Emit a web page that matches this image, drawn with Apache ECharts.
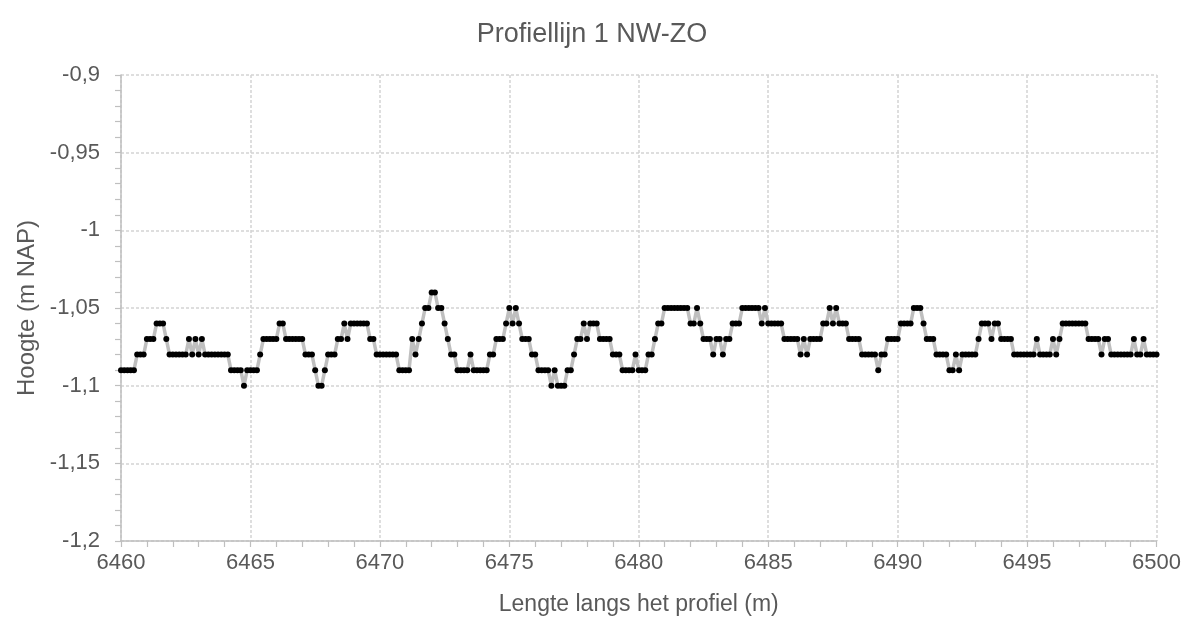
<!DOCTYPE html>
<html>
<head>
<meta charset="utf-8">
<script src="https://cdn.jsdelivr.net/npm/echarts@6/dist/echarts.min.js"></script>
<style>
  html, body { margin: 0; padding: 0; background: #fff; }
  #chart { width: 1184px; height: 621px; }
</style>
</head>
<body>
<div id="chart"></div>
<script>
// Profile line 1 (NW-SE): terrain height along the profile, sampled every 0.125 m
const titleText = 'Profiellijn 1 NW-ZO';
const xAxisTitle = 'Lengte langs het profiel (m)';
const yAxisTitle = 'Hoogte (m NAP)';

const startDistance = 6460;   // m along the profile
const sampleStep = 0.125;     // m between measurements

// heights in m NAP, one row per metre of profile
const heights = [
  -1.09,-1.09,-1.09,-1.09,-1.09,-1.08,-1.08,-1.08, // 6460
  -1.07,-1.07,-1.07,-1.06,-1.06,-1.06,-1.07,-1.08, // 6461
  -1.08,-1.08,-1.08,-1.08,-1.08,-1.07,-1.08,-1.07, // 6462
  -1.08,-1.07,-1.08,-1.08,-1.08,-1.08,-1.08,-1.08, // 6463
  -1.08,-1.08,-1.09,-1.09,-1.09,-1.09,-1.10,-1.09, // 6464
  -1.09,-1.09,-1.09,-1.08,-1.07,-1.07,-1.07,-1.07, // 6465
  -1.07,-1.06,-1.06,-1.07,-1.07,-1.07,-1.07,-1.07, // 6466
  -1.07,-1.08,-1.08,-1.08,-1.09,-1.10,-1.10,-1.09, // 6467
  -1.08,-1.08,-1.08,-1.07,-1.07,-1.06,-1.07,-1.06, // 6468
  -1.06,-1.06,-1.06,-1.06,-1.06,-1.07,-1.07,-1.08, // 6469
  -1.08,-1.08,-1.08,-1.08,-1.08,-1.08,-1.09,-1.09, // 6470
  -1.09,-1.09,-1.07,-1.08,-1.07,-1.06,-1.05,-1.05, // 6471
  -1.04,-1.04,-1.05,-1.05,-1.06,-1.07,-1.08,-1.08, // 6472
  -1.09,-1.09,-1.09,-1.09,-1.08,-1.09,-1.09,-1.09, // 6473
  -1.09,-1.09,-1.08,-1.08,-1.07,-1.07,-1.07,-1.06, // 6474
  -1.05,-1.06,-1.05,-1.06,-1.07,-1.07,-1.07,-1.08, // 6475
  -1.08,-1.09,-1.09,-1.09,-1.09,-1.10,-1.09,-1.10, // 6476
  -1.10,-1.10,-1.09,-1.09,-1.08,-1.07,-1.07,-1.06, // 6477
  -1.07,-1.06,-1.06,-1.06,-1.07,-1.07,-1.07,-1.07, // 6478
  -1.08,-1.08,-1.08,-1.09,-1.09,-1.09,-1.09,-1.08, // 6479
  -1.09,-1.09,-1.09,-1.08,-1.08,-1.07,-1.06,-1.06, // 6480
  -1.05,-1.05,-1.05,-1.05,-1.05,-1.05,-1.05,-1.05, // 6481
  -1.06,-1.06,-1.05,-1.06,-1.07,-1.07,-1.07,-1.08, // 6482
  -1.07,-1.07,-1.08,-1.07,-1.07,-1.06,-1.06,-1.06, // 6483
  -1.05,-1.05,-1.05,-1.05,-1.05,-1.05,-1.06,-1.05, // 6484
  -1.06,-1.06,-1.06,-1.06,-1.06,-1.07,-1.07,-1.07, // 6485
  -1.07,-1.07,-1.08,-1.07,-1.08,-1.07,-1.07,-1.07, // 6486
  -1.07,-1.06,-1.06,-1.05,-1.06,-1.05,-1.06,-1.06, // 6487
  -1.06,-1.07,-1.07,-1.07,-1.07,-1.08,-1.08,-1.08, // 6488
  -1.08,-1.08,-1.09,-1.08,-1.08,-1.07,-1.07,-1.07, // 6489
  -1.07,-1.06,-1.06,-1.06,-1.06,-1.05,-1.05,-1.05, // 6490
  -1.06,-1.07,-1.07,-1.07,-1.08,-1.08,-1.08,-1.08, // 6491
  -1.09,-1.09,-1.08,-1.09,-1.08,-1.08,-1.08,-1.08, // 6492
  -1.08,-1.07,-1.06,-1.06,-1.06,-1.07,-1.06,-1.06, // 6493
  -1.07,-1.07,-1.07,-1.07,-1.08,-1.08,-1.08,-1.08, // 6494
  -1.08,-1.08,-1.08,-1.07,-1.08,-1.08,-1.08,-1.08, // 6495
  -1.07,-1.08,-1.07,-1.06,-1.06,-1.06,-1.06,-1.06, // 6496
  -1.06,-1.06,-1.06,-1.07,-1.07,-1.07,-1.07,-1.08, // 6497
  -1.07,-1.07,-1.08,-1.08,-1.08,-1.08,-1.08,-1.08, // 6498
  -1.08,-1.07,-1.08,-1.08,-1.07,-1.08,-1.08,-1.08, // 6499
  -1.08                                            // 6500
];

// axis ranges and tick spacing
const xRange = [6460, 6500];
const xTickStep = 5;
const yRange = [-1.2, -0.9];
const yTickStep = 0.05;

const points = heights.map((h, i) => [startDistance + i * sampleStep, h]);

const textColor = '#595959';
const fontFamily = '"Liberation Sans", Arial, sans-serif';
const gridLine = { show: true, lineStyle: { color: '#d4d4d4', width: 1.5, type: [3, 2] } };
const axisLine = { show: true, onZero: false, lineStyle: { color: '#bfbfbf', width: 1.5 } };
const tick = { show: true, inside: false, length: 6, lineStyle: { color: '#bfbfbf', width: 1.2 } };
const minor = { show: true, splitNumber: 5, length: 6, lineStyle: { color: '#bfbfbf', width: 1.2 } };
const decimalComma = v => String(Math.round(v * 100) / 100).replace('.', ',');
const plainNumber = v => String(Math.round(v));

const chart = echarts.init(document.getElementById('chart'), null, { renderer: 'canvas' });
chart.setOption({
  animation: false,
  backgroundColor: '#ffffff',
  title: {
    text: titleText,
    left: 'center',
    top: 16,
    textStyle: { color: textColor, fontFamily, fontSize: 27, fontWeight: 'normal' }
  },
  grid: { left: 121, right: 27, top: 75, bottom: 79, containLabel: false },
  xAxis: {
    type: 'value',
    min: xRange[0],
    max: xRange[1],
    interval: xTickStep,
    name: xAxisTitle,
    nameLocation: 'middle',
    nameGap: 52,
    nameTextStyle: { color: textColor, fontFamily, fontSize: 23 },
    axisLine,
    axisTick: tick,
    minorTick: minor,
    splitLine: gridLine,
    axisLabel: { color: textColor, fontFamily, fontSize: 22, margin: 11, formatter: plainNumber }
  },
  yAxis: {
    type: 'value',
    min: yRange[0],
    max: yRange[1],
    interval: yTickStep,
    name: yAxisTitle,
    nameLocation: 'middle',
    nameGap: 79,
    nameTextStyle: { color: textColor, fontFamily, fontSize: 24 },
    axisLine,
    axisTick: tick,
    minorTick: minor,
    splitLine: gridLine,
    axisLabel: { color: textColor, fontFamily, fontSize: 22, margin: 21, formatter: decimalComma }
  },
  series: [{
    type: 'line',
    data: points,
    symbol: 'circle',
    symbolSize: 6,
    showSymbol: true,
    itemStyle: { color: '#000000' },
    lineStyle: { color: '#bfbfbf', width: 3.5 },
    emphasis: { disabled: true }
  }]
});
</script>
</body>
</html>
